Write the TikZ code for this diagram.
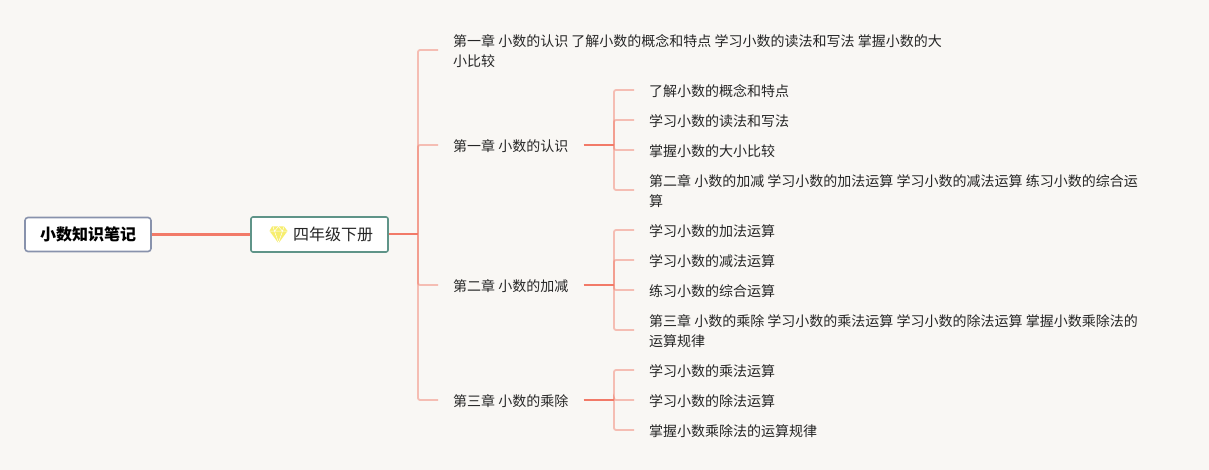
\documentclass[tikz,border=0pt]{standalone}
\usepackage{fontspec}
\setmainfont{Noto Sans CJK SC}
\definecolor{bgc}{HTML}{F9F7F4}
\definecolor{redl}{HTML}{F27A68}
\definecolor{rootb}{HTML}{8892AC}
\definecolor{tealb}{HTML}{5F9488}
\definecolor{txt}{HTML}{262626}
\definecolor{gem}{HTML}{F7EE6E}
\begin{document}
\begin{tikzpicture}[x=1pt,y=-1pt,
  every node/.style={font=\fontsize{14pt}{20pt}\selectfont,text=txt},
  topic/.style={anchor=west,align=left,inner xsep=15pt,inner ysep=0pt,yshift=-1pt},
  rootbox/.style={draw=rootb,fill=white,line width=1.6pt,rounded corners=3pt,minimum width=126pt,minimum height=34pt,inner sep=0pt,font=\fontsize{16pt}{18pt}\selectfont\bfseries,text=black},
  subbox/.style={draw=tealb,fill=white,line width=1.6pt,rounded corners=2pt,minimum width=137pt,minimum height=35pt,inner sep=0pt,font=\fontsize{16pt}{18pt}\selectfont},
  thick link/.style={draw=redl,line width=3pt},
  mid link/.style={draw=redl,line width=2pt},
  stub link/.style={draw=redl,line width=2.2pt},
  thin link/.style={draw=redl,draw opacity=.46,line width=1.8pt,rounded corners=2pt}]
\useasboundingbox[fill=bgc] (0,0) rectangle (1209,470);
\node[rootbox] (root) at (88,234.5) {\raisebox{-1pt}{小数知识笔记}};
\node[subbox] (book) at (319.5,234.5) {\hspace{27pt}\raisebox{-1pt}{四年级下册}};
\fill[gem] (272,226.5) -- (284,226.5) -- (287.5,231) -- (278.7,243) -- (278.3,243) -- (269.5,231) -- cycle;
\draw[white,line width=.5pt] (270,231.2) -- (287,231.2) (273,226.5) -- (274.5,231.2) -- (278.5,242.5) -- (282.5,231.2) -- (284,226.5) (274.5,231.2) -- (278.5,226.5) -- (282.5,231.2);
\coordinate (hub) at (418,234.5);
\coordinate (hubA) at (614,145);
\coordinate (hubB) at (614,285);
\coordinate (hubC) at (614,400);

\node[topic] (c0) at (438,50) {第一章 小数的认识 了解小数的概念和特点 学习小数的读法和写法 掌握小数的大\\小比较};
\node[topic] (c1) at (438,145) {第一章 小数的认识};
\node[topic] (c2) at (438,285) {第二章 小数的加减};
\node[topic] (c3) at (438,400) {第三章 小数的乘除};

\node[topic] (a1) at (634,90) {了解小数的概念和特点};
\node[topic] (a2) at (634,120) {学习小数的读法和写法};
\node[topic] (a3) at (634,150) {掌握小数的大小比较};
\node[topic] (a4) at (634,190) {第二章 小数的加减 学习小数的加法运算 学习小数的减法运算 练习小数的综合运\\算};
\node[topic] (b1) at (634,230) {学习小数的加法运算};
\node[topic] (b2) at (634,260) {学习小数的减法运算};
\node[topic] (b3) at (634,290) {练习小数的综合运算};
\node[topic] (b4) at (634,330) {第三章 小数的乘除 学习小数的乘法运算 学习小数的除法运算 掌握小数乘除法的\\运算规律};
\node[topic] (d1) at (634,370) {学习小数的乘法运算};
\node[topic] (d2) at (634,400) {学习小数的除法运算};
\node[topic] (d3) at (634,430) {掌握小数乘除法的运算规律};

\draw[thick link] (root.east) -- (book.west);
\draw[mid link] (book.east) -- (hub);
\foreach \t in {c0,c1,c2,c3} \draw[thin link] (hub) |- ([yshift=1pt]\t.west);
\draw[stub link] ([yshift=1pt]c1.east) -- (hubA);
\draw[stub link] ([yshift=1pt]c2.east) -- (hubB);
\draw[stub link] ([yshift=1pt]c3.east) -- (hubC);
\foreach \t in {a1,a2,a3,a4} \draw[thin link] (hubA) |- ([yshift=1pt]\t.west);
\foreach \t in {b1,b2,b3,b4} \draw[thin link] (hubB) |- ([yshift=1pt]\t.west);
\foreach \t in {d1,d2,d3} \draw[thin link] (hubC) |- ([yshift=1pt]\t.west);
\end{tikzpicture}
\end{document}
